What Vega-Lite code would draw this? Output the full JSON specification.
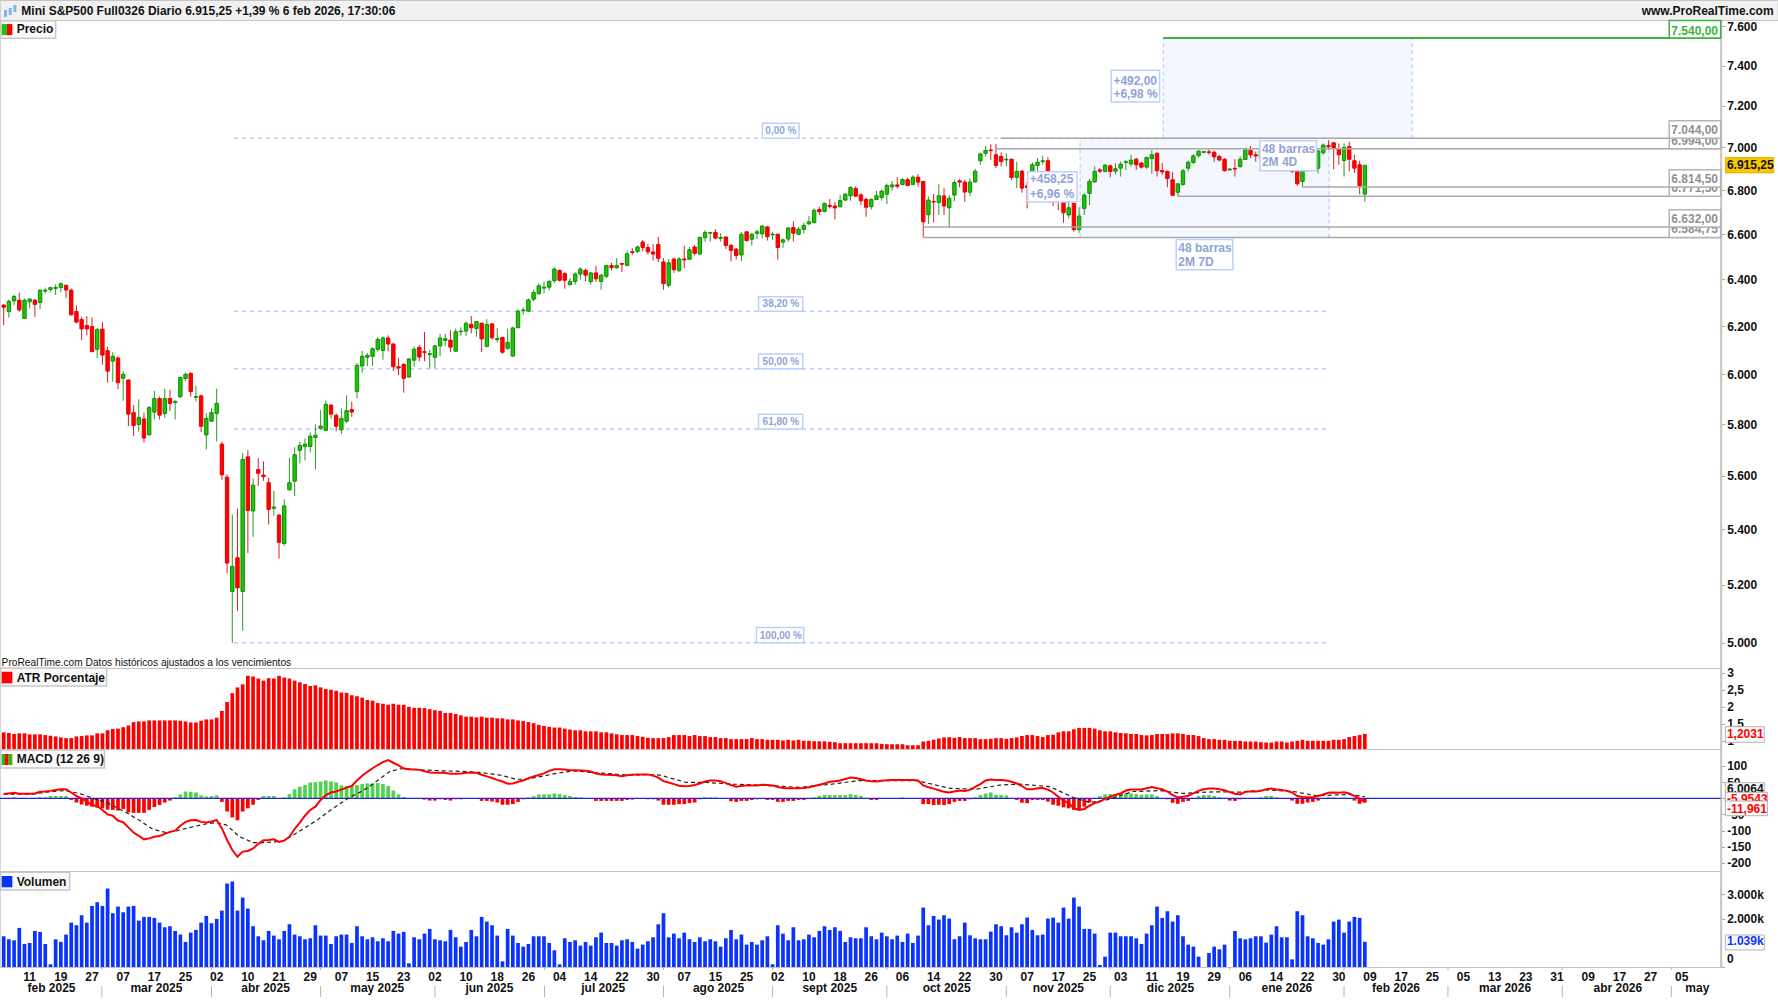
{
"$schema":"https://vega.github.io/schema/vega-lite/v6.json",
"padding":{"left":-2.3,"top":-1,"right":0,"bottom":0},
"background":"white",
"spacing":0,
"bounds":"flush",
"config":{
"axis":{"grid":false,"title":null,"labelFont":"Liberation Sans","labelFontSize":12,"labelFontWeight":"bold","labelColor":"#111111","tickColor":"#a8a8a8","tickSize":4,"domainColor":"#c4c4c4","domainWidth":2,"labelPadding":2,"labelOverlap":false,"labelBound":false,"labelFlush":false},
"text":{"font":"Liberation Sans","fontSize":12,"fontWeight":"bold","align":"left","baseline":"alphabetic","color":"#111111"}
},
"datasets":{
"velas":[
{"i":0,"d":"d","o":6289,"h":6292,"l":6204,"c":6280,"atr":1.25,"macd":13,"hist":0,"vol":1270},
{"i":1,"d":"u","o":6261,"h":6313,"l":6236,"c":6305,"atr":1.23,"macd":15,"hist":0,"vol":1145},
{"i":2,"d":"u","o":6307,"h":6332,"l":6289,"c":6326,"atr":1.2,"macd":17,"hist":3,"vol":1104},
{"i":3,"d":"d","o":6310,"h":6342,"l":6261,"c":6268,"atr":1.22,"macd":14,"hist":0,"vol":1615},
{"i":4,"d":"u","o":6232,"h":6317,"l":6229,"c":6310,"atr":1.22,"macd":14,"hist":0,"vol":952},
{"i":5,"d":"u","o":6303,"h":6317,"l":6275,"c":6315,"atr":1.19,"macd":14,"hist":0,"vol":994},
{"i":6,"d":"d","o":6310,"h":6315,"l":6239,"c":6292,"atr":1.19,"macd":15,"hist":0,"vol":1490},
{"i":7,"d":"u","o":6300,"h":6357,"l":6272,"c":6353,"atr":1.19,"macd":20,"hist":3,"vol":1449},
{"i":8,"d":"u","o":6349,"h":6364,"l":6339,"c":6353,"atr":1.17,"macd":21,"hist":3,"vol":952},
{"i":9,"d":"u","o":6356,"h":6367,"l":6344,"c":6364,"atr":1.15,"macd":23,"hist":7,"vol":110},
{"i":10,"d":"u","o":6361,"h":6378,"l":6332,"c":6364,"atr":1.13,"macd":26,"hist":7,"vol":1145},
{"i":11,"d":"u","o":6364,"h":6386,"l":6344,"c":6381,"atr":1.1,"macd":28,"hist":7,"vol":1035},
{"i":12,"d":"d","o":6374,"h":6377,"l":6320,"c":6354,"atr":1.08,"macd":28,"hist":7,"vol":1339},
{"i":13,"d":"d","o":6353,"h":6360,"l":6244,"c":6248,"atr":1.08,"macd":18,"hist":-5,"vol":1835},
{"i":14,"d":"d","o":6262,"h":6288,"l":6212,"c":6217,"atr":1.13,"macd":7,"hist":-13,"vol":1725},
{"i":15,"d":"d","o":6228,"h":6239,"l":6141,"c":6188,"atr":1.14,"macd":0,"hist":-19,"vol":2139},
{"i":16,"d":"d","o":6202,"h":6242,"l":6161,"c":6188,"atr":1.16,"macd":-10,"hist":-23,"vol":1835},
{"i":17,"d":"d","o":6198,"h":6236,"l":6093,"c":6093,"atr":1.16,"macd":-21,"hist":-26,"vol":2525},
{"i":18,"d":"u","o":6103,"h":6192,"l":6067,"c":6185,"atr":1.22,"macd":-24,"hist":-29,"vol":2677},
{"i":19,"d":"d","o":6187,"h":6218,"l":6040,"c":6079,"atr":1.22,"macd":-36,"hist":-31,"vol":2525},
{"i":20,"d":"d","o":6097,"h":6114,"l":5966,"c":6013,"atr":1.31,"macd":-50,"hist":-35,"vol":3243},
{"i":21,"d":"u","o":6054,"h":6091,"l":5970,"c":6074,"atr":1.35,"macd":-54,"hist":-36,"vol":2222},
{"i":22,"d":"d","o":6067,"h":6074,"l":5940,"c":5966,"atr":1.36,"macd":-69,"hist":-38,"vol":2498},
{"i":23,"d":"u","o":5984,"h":6013,"l":5893,"c":6000,"atr":1.4,"macd":-74,"hist":-33,"vol":2263},
{"i":24,"d":"d","o":5977,"h":5980,"l":5792,"c":5840,"atr":1.45,"macd":-90,"hist":-44,"vol":2498},
{"i":25,"d":"d","o":5846,"h":5876,"l":5754,"c":5795,"atr":1.55,"macd":-106,"hist":-45,"vol":2525},
{"i":26,"d":"u","o":5799,"h":5899,"l":5770,"c":5827,"atr":1.57,"macd":-116,"hist":-45,"vol":1918},
{"i":27,"d":"d","o":5821,"h":5846,"l":5729,"c":5746,"atr":1.57,"macd":-127,"hist":-45,"vol":2070},
{"i":28,"d":"u","o":5758,"h":5872,"l":5757,"c":5866,"atr":1.6,"macd":-124,"hist":-36,"vol":2070},
{"i":29,"d":"u","o":5848,"h":5933,"l":5819,"c":5902,"atr":1.6,"macd":-119,"hist":-27,"vol":2029},
{"i":30,"d":"d","o":5902,"h":5910,"l":5819,"c":5836,"atr":1.6,"macd":-117,"hist":-21,"vol":1835},
{"i":31,"d":"u","o":5842,"h":5942,"l":5825,"c":5902,"atr":1.6,"macd":-110,"hist":-13,"vol":1642},
{"i":32,"d":"d","o":5902,"h":5936,"l":5852,"c":5882,"atr":1.6,"macd":-104,"hist":-7,"vol":1684},
{"i":33,"d":"u","o":5886,"h":5895,"l":5819,"c":5891,"atr":1.6,"macd":-100,"hist":3,"vol":1490},
{"i":34,"d":"u","o":5909,"h":5991,"l":5906,"c":5987,"atr":1.59,"macd":-85,"hist":12,"vol":1339},
{"i":35,"d":"u","o":5983,"h":6008,"l":5973,"c":6000,"atr":1.57,"macd":-73,"hist":21,"vol":1035},
{"i":36,"d":"d","o":6004,"h":6008,"l":5910,"c":5930,"atr":1.54,"macd":-68,"hist":20,"vol":1421},
{"i":37,"d":"u","o":5907,"h":5953,"l":5890,"c":5910,"atr":1.54,"macd":-67,"hist":18,"vol":1532},
{"i":38,"d":"d","o":5913,"h":5917,"l":5769,"c":5792,"atr":1.59,"macd":-73,"hist":9,"vol":1835},
{"i":39,"d":"u","o":5758,"h":5843,"l":5702,"c":5823,"atr":1.63,"macd":-75,"hist":6,"vol":2111},
{"i":40,"d":"u","o":5812,"h":5863,"l":5809,"c":5846,"atr":1.63,"macd":-72,"hist":7,"vol":1808},
{"i":41,"d":"u","o":5842,"h":5942,"l":5732,"c":5883,"atr":1.68,"macd":-67,"hist":9,"vol":1987},
{"i":42,"d":"d","o":5722,"h":5732,"l":5585,"c":5604,"atr":1.88,"macd":-93,"hist":-11,"vol":2332},
{"i":43,"d":"d","o":5595,"h":5606,"l":5241,"c":5278,"atr":2.14,"macd":-129,"hist":-41,"vol":3450},
{"i":44,"d":"u","o":5177,"h":5455,"l":5000,"c":5266,"atr":2.4,"macd":-160,"hist":-59,"vol":3533},
{"i":45,"d":"d","o":5297,"h":5477,"l":5109,"c":5190,"atr":2.57,"macd":-181,"hist":-68,"vol":2332},
{"i":46,"d":"u","o":5177,"h":5688,"l":5041,"c":5663,"atr":2.66,"macd":-165,"hist":-41,"vol":2870},
{"i":47,"d":"d","o":5673,"h":5700,"l":5314,"c":5470,"atr":2.91,"macd":-163,"hist":-31,"vol":2415},
{"i":48,"d":"u","o":5468,"h":5590,"l":5373,"c":5565,"atr":2.89,"macd":-155,"hist":-20,"vol":1684},
{"i":49,"d":"d","o":5624,"h":5669,"l":5562,"c":5610,"atr":2.83,"macd":-141,"hist":-5,"vol":1270},
{"i":50,"d":"d","o":5603,"h":5656,"l":5581,"c":5597,"atr":2.77,"macd":-130,"hist":7,"vol":1104},
{"i":51,"d":"d","o":5574,"h":5593,"l":5418,"c":5474,"atr":2.84,"macd":-129,"hist":7,"vol":1490},
{"i":52,"d":"u","o":5478,"h":5543,"l":5450,"c":5483,"atr":2.83,"macd":-127,"hist":7,"vol":1297},
{"i":53,"d":"d","o":5453,"h":5456,"l":5294,"c":5353,"atr":2.91,"macd":-135,"hist":0,"vol":1145},
{"i":54,"d":"u","o":5349,"h":5512,"l":5340,"c":5487,"atr":2.86,"macd":-131,"hist":3,"vol":1490},
{"i":55,"d":"u","o":5547,"h":5669,"l":5546,"c":5574,"atr":2.83,"macd":-119,"hist":13,"vol":1766},
{"i":56,"d":"u","o":5580,"h":5710,"l":5524,"c":5681,"atr":2.77,"macd":-95,"hist":28,"vol":1339},
{"i":57,"d":"u","o":5698,"h":5732,"l":5648,"c":5717,"atr":2.72,"macd":-75,"hist":36,"vol":1270},
{"i":58,"d":"u","o":5713,"h":5745,"l":5659,"c":5722,"atr":2.67,"macd":-54,"hist":41,"vol":1145},
{"i":59,"d":"u","o":5713,"h":5767,"l":5690,"c":5753,"atr":2.61,"macd":-36,"hist":49,"vol":1187},
{"i":60,"d":"u","o":5748,"h":5799,"l":5625,"c":5757,"atr":2.63,"macd":-26,"hist":50,"vol":1725},
{"i":61,"d":"u","o":5784,"h":5856,"l":5778,"c":5793,"atr":2.57,"macd":-5,"hist":52,"vol":1297},
{"i":62,"d":"u","o":5776,"h":5895,"l":5772,"c":5879,"atr":2.52,"macd":10,"hist":55,"vol":1297},
{"i":63,"d":"d","o":5876,"h":5879,"l":5823,"c":5840,"atr":2.5,"macd":18,"hist":52,"vol":952},
{"i":64,"d":"d","o":5835,"h":5843,"l":5772,"c":5792,"atr":2.47,"macd":21,"hist":49,"vol":1270},
{"i":65,"d":"u","o":5778,"h":5863,"l":5761,"c":5823,"atr":2.42,"macd":27,"hist":40,"vol":1339},
{"i":66,"d":"u","o":5812,"h":5915,"l":5805,"c":5854,"atr":2.41,"macd":33,"hist":38,"vol":1339},
{"i":67,"d":"d","o":5858,"h":5889,"l":5829,"c":5848,"atr":2.34,"macd":38,"hist":39,"vol":994},
{"i":68,"d":"u","o":5930,"h":6047,"l":5903,"c":6036,"atr":2.31,"macd":55,"hist":41,"vol":1684},
{"i":69,"d":"u","o":6034,"h":6097,"l":6007,"c":6074,"atr":2.27,"macd":70,"hist":44,"vol":1270},
{"i":70,"d":"u","o":6070,"h":6087,"l":6034,"c":6078,"atr":2.2,"macd":82,"hist":46,"vol":1145},
{"i":71,"d":"u","o":6074,"h":6111,"l":6034,"c":6105,"atr":2.18,"macd":93,"hist":46,"vol":1228},
{"i":72,"d":"u","o":6103,"h":6154,"l":6094,"c":6144,"atr":2.11,"macd":103,"hist":47,"vol":1063},
{"i":73,"d":"u","o":6098,"h":6157,"l":6060,"c":6150,"atr":2.09,"macd":112,"hist":44,"vol":1187},
{"i":74,"d":"d","o":6150,"h":6161,"l":6094,"c":6125,"atr":2.06,"macd":118,"hist":38,"vol":1063},
{"i":75,"d":"d","o":6125,"h":6128,"l":6013,"c":6031,"atr":2.09,"macd":110,"hist":24,"vol":1490},
{"i":76,"d":"d","o":6031,"h":6067,"l":5997,"c":6026,"atr":2.06,"macd":102,"hist":12,"vol":1380},
{"i":77,"d":"d","o":6040,"h":6047,"l":5926,"c":5984,"atr":2.06,"macd":92,"hist":4,"vol":1449},
{"i":78,"d":"u","o":5989,"h":6067,"l":5987,"c":6063,"atr":2,"macd":90,"hist":1,"vol":152},
{"i":79,"d":"u","o":6058,"h":6114,"l":6031,"c":6103,"atr":1.97,"macd":89,"hist":0,"vol":1228},
{"i":80,"d":"d","o":6111,"h":6121,"l":6054,"c":6071,"atr":1.97,"macd":88,"hist":0,"vol":1145},
{"i":81,"d":"d","o":6093,"h":6175,"l":6054,"c":6090,"atr":1.96,"macd":84,"hist":-4,"vol":1380},
{"i":82,"d":"u","o":6081,"h":6101,"l":6023,"c":6085,"atr":1.93,"macd":80,"hist":-7,"vol":1573},
{"i":83,"d":"u","o":6070,"h":6121,"l":6027,"c":6117,"atr":1.9,"macd":79,"hist":-7,"vol":1145},
{"i":84,"d":"u","o":6117,"h":6168,"l":6074,"c":6150,"atr":1.88,"macd":79,"hist":-3,"vol":1104},
{"i":85,"d":"u","o":6140,"h":6168,"l":6117,"c":6147,"atr":1.82,"macd":78,"hist":-5,"vol":1063},
{"i":86,"d":"d","o":6141,"h":6183,"l":6091,"c":6112,"atr":1.82,"macd":76,"hist":-7,"vol":1532},
{"i":87,"d":"u","o":6095,"h":6190,"l":6094,"c":6176,"atr":1.79,"macd":76,"hist":-3,"vol":1228},
{"i":88,"d":"u","o":6176,"h":6195,"l":6159,"c":6179,"atr":1.75,"macd":77,"hist":-3,"vol":842},
{"i":89,"d":"u","o":6179,"h":6219,"l":6159,"c":6212,"atr":1.71,"macd":79,"hist":0,"vol":1035},
{"i":90,"d":"d","o":6207,"h":6243,"l":6169,"c":6193,"atr":1.71,"macd":79,"hist":0,"vol":1532},
{"i":91,"d":"u","o":6190,"h":6222,"l":6155,"c":6219,"atr":1.69,"macd":79,"hist":0,"vol":1270},
{"i":92,"d":"d","o":6212,"h":6214,"l":6091,"c":6146,"atr":1.71,"macd":73,"hist":-8,"vol":2070},
{"i":93,"d":"u","o":6115,"h":6229,"l":6111,"c":6207,"atr":1.68,"macd":68,"hist":-8,"vol":1877},
{"i":94,"d":"d","o":6209,"h":6212,"l":6143,"c":6151,"atr":1.68,"macd":63,"hist":-10,"vol":1725},
{"i":95,"d":"u","o":6143,"h":6192,"l":6131,"c":6148,"atr":1.66,"macd":57,"hist":-13,"vol":1297},
{"i":96,"d":"d","o":6152,"h":6155,"l":6084,"c":6091,"atr":1.66,"macd":52,"hist":-20,"vol":235},
{"i":97,"d":"u","o":6107,"h":6189,"l":6101,"c":6132,"atr":1.63,"macd":45,"hist":-20,"vol":1573},
{"i":98,"d":"u","o":6075,"h":6197,"l":6072,"c":6192,"atr":1.63,"macd":46,"hist":-18,"vol":1297},
{"i":99,"d":"u","o":6193,"h":6271,"l":6192,"c":6263,"atr":1.6,"macd":51,"hist":-11,"vol":994},
{"i":100,"d":"u","o":6266,"h":6280,"l":6247,"c":6268,"atr":1.58,"macd":55,"hist":-3,"vol":842},
{"i":101,"d":"u","o":6263,"h":6318,"l":6260,"c":6311,"atr":1.55,"macd":62,"hist":3,"vol":952},
{"i":102,"d":"u","o":6314,"h":6355,"l":6304,"c":6343,"atr":1.52,"macd":68,"hist":7,"vol":1270},
{"i":103,"d":"u","o":6337,"h":6383,"l":6336,"c":6372,"atr":1.47,"macd":72,"hist":12,"vol":1270},
{"i":104,"d":"u","o":6362,"h":6391,"l":6340,"c":6366,"atr":1.44,"macd":77,"hist":12,"vol":1270},
{"i":105,"d":"u","o":6366,"h":6396,"l":6352,"c":6391,"atr":1.41,"macd":85,"hist":12,"vol":994},
{"i":106,"d":"u","o":6394,"h":6453,"l":6384,"c":6445,"atr":1.39,"macd":90,"hist":15,"vol":690},
{"i":107,"d":"d","o":6439,"h":6442,"l":6391,"c":6396,"atr":1.39,"macd":90,"hist":13,"vol":110},
{"i":108,"d":"d","o":6425,"h":6432,"l":6359,"c":6396,"atr":1.36,"macd":89,"hist":10,"vol":1187},
{"i":109,"d":"u","o":6377,"h":6406,"l":6372,"c":6391,"atr":1.33,"macd":87,"hist":7,"vol":1035},
{"i":110,"d":"u","o":6391,"h":6431,"l":6377,"c":6423,"atr":1.31,"macd":87,"hist":4,"vol":1104},
{"i":111,"d":"u","o":6423,"h":6453,"l":6399,"c":6445,"atr":1.31,"macd":86,"hist":3,"vol":883},
{"i":112,"d":"d","o":6439,"h":6447,"l":6391,"c":6418,"atr":1.28,"macd":85,"hist":1,"vol":1035},
{"i":113,"d":"u","o":6390,"h":6431,"l":6377,"c":6428,"atr":1.28,"macd":83,"hist":0,"vol":883},
{"i":114,"d":"d","o":6428,"h":6460,"l":6388,"c":6402,"atr":1.28,"macd":77,"hist":-8,"vol":1228},
{"i":115,"d":"u","o":6391,"h":6425,"l":6355,"c":6418,"atr":1.25,"macd":74,"hist":-8,"vol":1421},
{"i":116,"d":"u","o":6413,"h":6464,"l":6406,"c":6460,"atr":1.25,"macd":73,"hist":-8,"vol":994},
{"i":117,"d":"d","o":6460,"h":6472,"l":6438,"c":6451,"atr":1.22,"macd":72,"hist":-8,"vol":994},
{"i":118,"d":"u","o":6450,"h":6493,"l":6447,"c":6461,"atr":1.19,"macd":71,"hist":-8,"vol":883},
{"i":119,"d":"d","o":6469,"h":6472,"l":6432,"c":6466,"atr":1.17,"macd":68,"hist":-8,"vol":1104},
{"i":120,"d":"u","o":6461,"h":6526,"l":6457,"c":6512,"atr":1.17,"macd":71,"hist":-5,"vol":1145},
{"i":121,"d":"d","o":6521,"h":6537,"l":6508,"c":6518,"atr":1.17,"macd":73,"hist":-4,"vol":1035},
{"i":122,"d":"u","o":6523,"h":6549,"l":6515,"c":6542,"atr":1.14,"macd":74,"hist":0,"vol":759},
{"i":123,"d":"d","o":6564,"h":6574,"l":6523,"c":6540,"atr":1.12,"macd":74,"hist":0,"vol":925},
{"i":124,"d":"d","o":6540,"h":6556,"l":6508,"c":6521,"atr":1.09,"macd":74,"hist":-3,"vol":1063},
{"i":125,"d":"d","o":6520,"h":6555,"l":6482,"c":6511,"atr":1.08,"macd":70,"hist":-3,"vol":1228},
{"i":126,"d":"d","o":6553,"h":6587,"l":6475,"c":6492,"atr":1.08,"macd":64,"hist":-7,"vol":1766},
{"i":127,"d":"d","o":6476,"h":6493,"l":6355,"c":6381,"atr":1.08,"macd":53,"hist":-20,"vol":2222},
{"i":128,"d":"u","o":6374,"h":6489,"l":6365,"c":6472,"atr":1.11,"macd":49,"hist":-20,"vol":1228},
{"i":129,"d":"d","o":6489,"h":6496,"l":6428,"c":6442,"atr":1.17,"macd":44,"hist":-20,"vol":1380},
{"i":130,"d":"u","o":6438,"h":6498,"l":6432,"c":6489,"atr":1.17,"macd":39,"hist":-18,"vol":1187},
{"i":131,"d":"d","o":6489,"h":6548,"l":6450,"c":6485,"atr":1.17,"macd":37,"hist":-18,"vol":1421},
{"i":132,"d":"u","o":6488,"h":6542,"l":6486,"c":6530,"atr":1.14,"macd":38,"hist":-15,"vol":1145},
{"i":133,"d":"d","o":6542,"h":6552,"l":6504,"c":6514,"atr":1.17,"macd":41,"hist":-13,"vol":1035},
{"i":134,"d":"u","o":6511,"h":6588,"l":6507,"c":6585,"atr":1.14,"macd":46,"hist":-3,"vol":1228},
{"i":135,"d":"u","o":6584,"h":6617,"l":6566,"c":6607,"atr":1.14,"macd":52,"hist":3,"vol":1063},
{"i":136,"d":"u","o":6604,"h":6610,"l":6566,"c":6607,"atr":1.11,"macd":55,"hist":3,"vol":1145},
{"i":137,"d":"d","o":6607,"h":6622,"l":6577,"c":6582,"atr":1.11,"macd":55,"hist":3,"vol":1063},
{"i":138,"d":"u","o":6581,"h":6603,"l":6566,"c":6585,"atr":1.08,"macd":53,"hist":0,"vol":842},
{"i":139,"d":"d","o":6587,"h":6588,"l":6534,"c":6549,"atr":1.08,"macd":47,"hist":0,"vol":1187},
{"i":140,"d":"d","o":6550,"h":6555,"l":6479,"c":6527,"atr":1.05,"macd":41,"hist":-9,"vol":1532},
{"i":141,"d":"d","o":6533,"h":6537,"l":6486,"c":6504,"atr":1.05,"macd":36,"hist":-11,"vol":1145},
{"i":142,"d":"u","o":6507,"h":6610,"l":6479,"c":6599,"atr":1.05,"macd":38,"hist":-8,"vol":1339},
{"i":143,"d":"d","o":6610,"h":6613,"l":6566,"c":6571,"atr":1.05,"macd":40,"hist":-8,"vol":925},
{"i":144,"d":"u","o":6577,"h":6606,"l":6549,"c":6599,"atr":1.08,"macd":40,"hist":-5,"vol":1035},
{"i":145,"d":"u","o":6603,"h":6620,"l":6577,"c":6610,"atr":1.05,"macd":40,"hist":-3,"vol":925},
{"i":146,"d":"u","o":6601,"h":6640,"l":6581,"c":6636,"atr":1.05,"macd":42,"hist":0,"vol":1104},
{"i":147,"d":"d","o":6632,"h":6636,"l":6571,"c":6588,"atr":1.03,"macd":41,"hist":-5,"vol":1270},
{"i":148,"d":"u","o":6596,"h":6610,"l":6574,"c":6599,"atr":1.03,"macd":40,"hist":-5,"vol":110},
{"i":149,"d":"d","o":6599,"h":6602,"l":6486,"c":6540,"atr":1.03,"macd":35,"hist":-11,"vol":1725},
{"i":150,"d":"u","o":6564,"h":6581,"l":6539,"c":6574,"atr":1.01,"macd":32,"hist":-11,"vol":1380},
{"i":151,"d":"u","o":6578,"h":6632,"l":6566,"c":6627,"atr":1.03,"macd":31,"hist":-8,"vol":1104},
{"i":152,"d":"d","o":6629,"h":6657,"l":6566,"c":6604,"atr":1.01,"macd":31,"hist":-8,"vol":1642},
{"i":153,"d":"u","o":6599,"h":6632,"l":6596,"c":6622,"atr":1.03,"macd":31,"hist":-5,"vol":1104},
{"i":154,"d":"u","o":6621,"h":6651,"l":6603,"c":6639,"atr":1,"macd":32,"hist":-5,"vol":1145},
{"i":155,"d":"u","o":6646,"h":6681,"l":6640,"c":6655,"atr":1,"macd":34,"hist":0,"vol":1339},
{"i":156,"d":"u","o":6651,"h":6716,"l":6648,"c":6707,"atr":0.985,"macd":38,"hist":3,"vol":1228},
{"i":157,"d":"d","o":6711,"h":6724,"l":6686,"c":6701,"atr":0.985,"macd":42,"hist":8,"vol":1490},
{"i":158,"d":"u","o":6702,"h":6742,"l":6699,"c":6739,"atr":0.985,"macd":46,"hist":10,"vol":1684},
{"i":159,"d":"d","o":6730,"h":6759,"l":6716,"c":6725,"atr":0.97,"macd":51,"hist":10,"vol":1532},
{"i":160,"d":"d","o":6727,"h":6746,"l":6666,"c":6718,"atr":0.96,"macd":53,"hist":10,"vol":1642},
{"i":161,"d":"u","o":6724,"h":6777,"l":6719,"c":6752,"atr":0.93,"macd":55,"hist":10,"vol":1490},
{"i":162,"d":"u","o":6754,"h":6787,"l":6749,"c":6781,"atr":0.93,"macd":60,"hist":10,"vol":1035},
{"i":163,"d":"u","o":6774,"h":6818,"l":6751,"c":6812,"atr":0.93,"macd":64,"hist":13,"vol":1228},
{"i":164,"d":"d","o":6807,"h":6818,"l":6769,"c":6772,"atr":0.93,"macd":63,"hist":10,"vol":1187},
{"i":165,"d":"d","o":6778,"h":6787,"l":6731,"c":6751,"atr":0.93,"macd":59,"hist":7,"vol":1187},
{"i":166,"d":"d","o":6757,"h":6766,"l":6678,"c":6721,"atr":0.93,"macd":55,"hist":0,"vol":1642},
{"i":167,"d":"u","o":6724,"h":6762,"l":6711,"c":6757,"atr":0.93,"macd":53,"hist":-5,"vol":1270},
{"i":168,"d":"u","o":6757,"h":6797,"l":6754,"c":6774,"atr":0.93,"macd":52,"hist":-5,"vol":1145},
{"i":169,"d":"u","o":6766,"h":6803,"l":6751,"c":6795,"atr":0.91,"macd":54,"hist":0,"vol":1421},
{"i":170,"d":"u","o":6781,"h":6830,"l":6736,"c":6821,"atr":0.9,"macd":56,"hist":0,"vol":1270},
{"i":171,"d":"u","o":6815,"h":6842,"l":6797,"c":6824,"atr":0.9,"macd":57,"hist":0,"vol":1145},
{"i":172,"d":"d","o":6824,"h":6860,"l":6807,"c":6818,"atr":0.9,"macd":57,"hist":0,"vol":1297},
{"i":173,"d":"u","o":6826,"h":6855,"l":6823,"c":6849,"atr":0.9,"macd":57,"hist":3,"vol":1035},
{"i":174,"d":"d","o":6848,"h":6860,"l":6820,"c":6821,"atr":0.87,"macd":57,"hist":0,"vol":1380},
{"i":175,"d":"u","o":6826,"h":6869,"l":6823,"c":6860,"atr":0.87,"macd":57,"hist":0,"vol":994},
{"i":176,"d":"d","o":6860,"h":6874,"l":6816,"c":6837,"atr":0.87,"macd":55,"hist":0,"vol":1297},
{"i":177,"d":"d","o":6840,"h":6843,"l":6585,"c":6655,"atr":0.98,"macd":40,"hist":-18,"vol":2456},
{"i":178,"d":"u","o":6687,"h":6770,"l":6645,"c":6754,"atr":1,"macd":34,"hist":-18,"vol":1725},
{"i":179,"d":"d","o":6748,"h":6782,"l":6652,"c":6745,"atr":1.03,"macd":30,"hist":-21,"vol":2111},
{"i":180,"d":"u","o":6743,"h":6827,"l":6686,"c":6774,"atr":1.07,"macd":25,"hist":-20,"vol":1960},
{"i":181,"d":"d","o":6773,"h":6809,"l":6686,"c":6727,"atr":1.1,"macd":20,"hist":-21,"vol":2139},
{"i":182,"d":"u","o":6719,"h":6777,"l":6632,"c":6762,"atr":1.11,"macd":18,"hist":-18,"vol":2001},
{"i":183,"d":"u","o":6777,"h":6848,"l":6749,"c":6835,"atr":1.09,"macd":21,"hist":-11,"vol":1145},
{"i":184,"d":"d","o":6843,"h":6852,"l":6813,"c":6837,"atr":1.11,"macd":24,"hist":-8,"vol":1270},
{"i":185,"d":"d","o":6837,"h":6848,"l":6746,"c":6791,"atr":1.08,"macd":23,"hist":-8,"vol":1835},
{"i":186,"d":"u","o":6790,"h":6855,"l":6773,"c":6837,"atr":1.08,"macd":26,"hist":-3,"vol":1311},
{"i":187,"d":"u","o":6838,"h":6899,"l":6835,"c":6888,"atr":1.08,"macd":35,"hist":3,"vol":1187},
{"i":188,"d":"u","o":6937,"h":6976,"l":6918,"c":6969,"atr":1.05,"macd":44,"hist":10,"vol":1145},
{"i":189,"d":"u","o":6972,"h":7007,"l":6957,"c":6986,"atr":1.05,"macd":55,"hist":15,"vol":1145},
{"i":190,"d":"d","o":6988,"h":7015,"l":6941,"c":6985,"atr":1.06,"macd":58,"hist":18,"vol":1463},
{"i":191,"d":"d","o":6965,"h":7016,"l":6902,"c":6915,"atr":1.08,"macd":57,"hist":11,"vol":1766},
{"i":192,"d":"d","o":6957,"h":6977,"l":6910,"c":6933,"atr":1.08,"macd":57,"hist":10,"vol":1684},
{"i":193,"d":"u","o":6941,"h":6972,"l":6910,"c":6944,"atr":1.06,"macd":55,"hist":9,"vol":1311},
{"i":194,"d":"d","o":6944,"h":6947,"l":6848,"c":6859,"atr":1.08,"macd":51,"hist":0,"vol":1642},
{"i":195,"d":"u","o":6859,"h":6933,"l":6809,"c":6887,"atr":1.1,"macd":46,"hist":-5,"vol":1421},
{"i":196,"d":"d","o":6888,"h":6894,"l":6788,"c":6809,"atr":1.14,"macd":38,"hist":-14,"vol":1766},
{"i":197,"d":"d","o":6820,"h":6840,"l":6716,"c":6812,"atr":1.17,"macd":28,"hist":-15,"vol":2042},
{"i":198,"d":"u","o":6879,"h":6930,"l":6855,"c":6918,"atr":1.17,"macd":28,"hist":-5,"vol":1532},
{"i":199,"d":"u","o":6915,"h":6949,"l":6887,"c":6930,"atr":1.14,"macd":31,"hist":-5,"vol":1311},
{"i":200,"d":"u","o":6933,"h":6960,"l":6918,"c":6937,"atr":1.11,"macd":32,"hist":-5,"vol":1339},
{"i":201,"d":"d","o":6937,"h":6954,"l":6820,"c":6840,"atr":1.17,"macd":27,"hist":-10,"vol":2001},
{"i":202,"d":"d","o":6848,"h":6860,"l":6727,"c":6785,"atr":1.18,"macd":18,"hist":-20,"vol":2042},
{"i":203,"d":"d","o":6798,"h":6813,"l":6708,"c":6754,"atr":1.25,"macd":5,"hist":-23,"vol":1835},
{"i":204,"d":"d","o":6754,"h":6770,"l":6651,"c":6696,"atr":1.28,"macd":-7,"hist":-28,"vol":2456},
{"i":205,"d":"u","o":6686,"h":6746,"l":6670,"c":6719,"atr":1.28,"macd":-15,"hist":-31,"vol":2001},
{"i":206,"d":"d","o":6739,"h":6746,"l":6610,"c":6620,"atr":1.34,"macd":-31,"hist":-36,"vol":2870},
{"i":207,"d":"u","o":6620,"h":6721,"l":6605,"c":6681,"atr":1.38,"macd":-36,"hist":-37,"vol":2498},
{"i":208,"d":"u","o":6716,"h":6785,"l":6686,"c":6777,"atr":1.38,"macd":-33,"hist":-26,"vol":1573},
{"i":209,"d":"u","o":6785,"h":6852,"l":6731,"c":6840,"atr":1.38,"macd":-23,"hist":-13,"vol":1573},
{"i":210,"d":"u","o":6838,"h":6910,"l":6835,"c":6887,"atr":1.36,"macd":-15,"hist":0,"vol":1380},
{"i":211,"d":"d","o":6894,"h":6902,"l":6879,"c":6888,"atr":1.31,"macd":-10,"hist":7,"vol":83},
{"i":212,"d":"u","o":6887,"h":6922,"l":6883,"c":6916,"atr":1.28,"macd":-2,"hist":12,"vol":428},
{"i":213,"d":"d","o":6913,"h":6918,"l":6859,"c":6887,"atr":1.28,"macd":5,"hist":13,"vol":1421},
{"i":214,"d":"u","o":6888,"h":6926,"l":6873,"c":6899,"atr":1.25,"macd":11,"hist":13,"vol":1421},
{"i":215,"d":"u","o":6902,"h":6933,"l":6863,"c":6921,"atr":1.23,"macd":15,"hist":15,"vol":1270},
{"i":216,"d":"u","o":6929,"h":6941,"l":6894,"c":6932,"atr":1.22,"macd":24,"hist":15,"vol":1270},
{"i":217,"d":"u","o":6922,"h":6965,"l":6910,"c":6940,"atr":1.2,"macd":27,"hist":15,"vol":1270},
{"i":218,"d":"d","o":6944,"h":6951,"l":6894,"c":6918,"atr":1.2,"macd":27,"hist":13,"vol":1187},
{"i":219,"d":"d","o":6926,"h":6932,"l":6901,"c":6907,"atr":1.17,"macd":27,"hist":11,"vol":952},
{"i":220,"d":"u","o":6907,"h":6957,"l":6898,"c":6952,"atr":1.16,"macd":31,"hist":12,"vol":1380},
{"i":221,"d":"u","o":6947,"h":6988,"l":6876,"c":6965,"atr":1.17,"macd":35,"hist":12,"vol":1725},
{"i":222,"d":"d","o":6972,"h":6977,"l":6863,"c":6890,"atr":1.2,"macd":31,"hist":7,"vol":2498},
{"i":223,"d":"d","o":6891,"h":6926,"l":6871,"c":6885,"atr":1.2,"macd":28,"hist":0,"vol":2029},
{"i":224,"d":"d","o":6887,"h":6891,"l":6813,"c":6854,"atr":1.2,"macd":21,"hist":-3,"vol":2305},
{"i":225,"d":"d","o":6848,"h":6885,"l":6773,"c":6776,"atr":1.22,"macd":10,"hist":-14,"vol":1877},
{"i":226,"d":"u","o":6790,"h":6832,"l":6771.5,"c":6829,"atr":1.22,"macd":3,"hist":-17,"vol":2139},
{"i":227,"d":"u","o":6826,"h":6899,"l":6820,"c":6890,"atr":1.2,"macd":5,"hist":-11,"vol":1270},
{"i":228,"d":"u","o":6902,"h":6938,"l":6887,"c":6930,"atr":1.17,"macd":8,"hist":-8,"vol":925},
{"i":229,"d":"u","o":6929,"h":6968,"l":6922,"c":6960,"atr":1.17,"macd":15,"hist":0,"vol":842},
{"i":230,"d":"u","o":6961,"h":6988,"l":6951,"c":6982,"atr":1.14,"macd":23,"hist":7,"vol":428},
{"i":231,"d":"u","o":6977,"h":6983,"l":6972,"c":6980,"atr":1.08,"macd":28,"hist":10,"vol":0},
{"i":232,"d":"d","o":6979,"h":6991,"l":6965,"c":6976,"atr":1.05,"macd":30,"hist":10,"vol":580},
{"i":233,"d":"d","o":6977,"h":6985,"l":6932,"c":6955,"atr":1.05,"macd":30,"hist":7,"vol":842},
{"i":234,"d":"d","o":6957,"h":6965,"l":6933,"c":6941,"atr":1.03,"macd":28,"hist":3,"vol":731},
{"i":235,"d":"d","o":6944,"h":6949,"l":6887,"c":6890,"atr":1.03,"macd":25,"hist":0,"vol":925},
{"i":236,"d":"u","o":6894,"h":6901,"l":6891,"c":6898,"atr":1,"macd":19,"hist":-7,"vol":0},
{"i":237,"d":"d","o":6901,"h":6944,"l":6863,"c":6898,"atr":1,"macd":14,"hist":-8,"vol":1490},
{"i":238,"d":"u","o":6910,"h":6957,"l":6902,"c":6944,"atr":1,"macd":12,"hist":-3,"vol":1187},
{"i":239,"d":"u","o":6943,"h":6999,"l":6941,"c":6988,"atr":0.98,"macd":20,"hist":0,"vol":1145},
{"i":240,"d":"d","o":6986,"h":7007,"l":6949,"c":6965,"atr":0.98,"macd":21,"hist":0,"vol":1187},
{"i":241,"d":"d","o":6965,"h":6980,"l":6933,"c":6960,"atr":0.98,"macd":21,"hist":0,"vol":1270},
{"i":242,"d":"u","o":6949,"h":6996,"l":6941,"c":6988,"atr":0.96,"macd":23,"hist":3,"vol":1270},
{"i":243,"d":"u","o":6976,"h":7011,"l":6965,"c":7004,"atr":0.95,"macd":28,"hist":7,"vol":1007},
{"i":244,"d":"d","o":6996,"h":7007,"l":6949,"c":6965,"atr":0.95,"macd":30,"hist":7,"vol":1339},
{"i":245,"d":"u","o":6933,"h":6988,"l":6918,"c":6972,"atr":0.98,"macd":27,"hist":3,"vol":1684},
{"i":246,"d":"d","o":6957,"h":6972,"l":6902,"c":6918,"atr":0.98,"macd":26,"hist":0,"vol":1228},
{"i":247,"d":"d","o":6933,"h":6949,"l":6887,"c":6902,"atr":0.95,"macd":23,"hist":0,"vol":1228},
{"i":248,"d":"d","o":6918,"h":6933,"l":6879,"c":6887,"atr":0.98,"macd":18,"hist":-7,"vol":317},
{"i":249,"d":"d","o":6891,"h":6902,"l":6820,"c":6829,"atr":1,"macd":7,"hist":-17,"vol":2305},
{"i":250,"d":"u","o":6840,"h":6926,"l":6814.5,"c":6891,"atr":1.03,"macd":4,"hist":-17,"vol":2139},
{"i":251,"d":"u","o":6891,"h":6941,"l":6887,"c":6926,"atr":1,"macd":3,"hist":-13,"vol":1270},
{"i":252,"d":"u","o":6918,"h":6972,"l":6910,"c":6957,"atr":1,"macd":3,"hist":-11,"vol":1187},
{"i":253,"d":"u","o":6902,"h":6988,"l":6876,"c":6983,"atr":1,"macd":7,"hist":-7,"vol":994},
{"i":254,"d":"u","o":6975,"h":7019,"l":6965,"c":7011,"atr":1,"macd":12,"hist":0,"vol":925},
{"i":255,"d":"d","o":7008,"h":7034,"l":6988,"c":7003,"atr":1,"macd":17,"hist":3,"vol":1145},
{"i":256,"d":"d","o":7022,"h":7027,"l":6897,"c":6999,"atr":1.03,"macd":18,"hist":3,"vol":1877},
{"i":257,"d":"d","o":6991,"h":7019,"l":6918,"c":6965,"atr":1.03,"macd":17,"hist":0,"vol":1960},
{"i":258,"d":"u","o":6938,"h":7019,"l":6863,"c":7000,"atr":1.05,"macd":19,"hist":2,"vol":1421},
{"i":259,"d":"d","o":7004,"h":7027,"l":6887,"c":6944,"atr":1.11,"macd":15,"hist":0,"vol":1877},
{"i":260,"d":"d","o":6937,"h":6965,"l":6879,"c":6902,"atr":1.14,"macd":7,"hist":-7,"vol":2070},
{"i":261,"d":"d","o":6918,"h":6937,"l":6781,"c":6820,"atr":1.17,"macd":-1,"hist":-17,"vol":2029},
{"i":262,"d":"u","o":6782,"h":6918,"l":6746,"c":6915.25,"atr":1.2031,"macd":-12,"hist":-13,"vol":1039}
],
"senal":[
{"i":0,"v":13},{"i":5.6,"v":13},{"i":7.6,"v":18},{"i":11.7,"v":24},{"i":14.6,"v":15},{"i":17.2,"v":0},{"i":19.8,"v":-13},{"i":23.6,"v":-44},{"i":26.2,"v":-69},{"i":28.7,"v":-96},{"i":31.3,"v":-106},{"i":33.2,"v":-101},{"i":36.4,"v":-88},{"i":39,"v":-79},{"i":40.9,"v":-75},{"i":42.9,"v":-83},{"i":45.4,"v":-119},{"i":48,"v":-137},{"i":50.6,"v":-137},{"i":53.8,"v":-132},{"i":56.3,"v":-108},{"i":60.2,"v":-69},{"i":63.4,"v":-31},{"i":66.6,"v":3},{"i":69.2,"v":24},{"i":71.7,"v":52},{"i":74.3,"v":83},{"i":76.9,"v":93},{"i":80.1,"v":88},{"i":84.6,"v":85},{"i":89.1,"v":83},{"i":91.6,"v":80},{"i":95.5,"v":72},{"i":98.7,"v":59},{"i":100.6,"v":59},{"i":103.2,"v":67},{"i":106.4,"v":77},{"i":109.6,"v":85},{"i":114,"v":79},{"i":119.9,"v":72},{"i":123.7,"v":73},{"i":126.3,"v":72},{"i":131.4,"v":49},{"i":135.3,"v":49},{"i":140.4,"v":44},{"i":145.5,"v":41},{"i":150.7,"v":36},{"i":153.2,"v":34},{"i":159,"v":43},{"i":164.8,"v":55},{"i":175.7,"v":55},{"i":182.1,"v":31},{"i":187.2,"v":28},{"i":191.7,"v":41},{"i":195.6,"v":44},{"i":201.4,"v":36},{"i":205.8,"v":3},{"i":209,"v":-13},{"i":212.3,"v":-5},{"i":217.4,"v":21},{"i":222.5,"v":24},{"i":227,"v":15},{"i":232.8,"v":20},{"i":238,"v":19},{"i":243,"v":26},{"i":248.2,"v":21},{"i":252.7,"v":8},{"i":259.1,"v":12},{"i":262,"v":5}
],
"fibo":[
{"t":"0,00 %","i":146.05,"i2":153.1,"p":7044,"p2":7116,"tp":7063,"tc":149.6},
{"t":"38,20 %","i":145.3,"i2":153.8,"p":6263,"p2":6325,"tp":6280,"tc":149.6},
{"t":"50,00 %","i":145.3,"i2":153.8,"p":6023,"p2":6083,"tp":6038,"tc":149.6},
{"t":"61,80 %","i":145.3,"i2":153.8,"p":5781,"p2":5839,"tp":5797,"tc":149.6},
{"t":"100,00 %","i":144.9,"i2":154,"p":5000,"p2":5052,"tp":5014,"tc":149.6}
],
"medidas":[
{"t":"+458,25","t2":"+6,96 %","i":197.1,"i2":206.6,"p":6745,"p2":6885,"tp":6832,"tp2":6765,"tx":197.5},
{"t":"+492,00","t2":"+6,98 %","i":213.2,"i2":222.5,"p":7219,"p2":7377,"tp":7303,"tp2":7237,"tx":213.6},
{"t":"48 barras","t2":"2M 7D","i":225.7,"i2":236.6,"p":6442,"p2":6576,"tp":6521,"tp2":6459,"tx":226.1},
{"t":"48 barras","t2":"2M 4D","i":241.8,"i2":252.7,"p":6890,"p2":7032,"tp":6975,"tp2":6912,"tx":242.2}
],
"mes":[
{"t":"feb 2025","i":9.2},{"t":"mar 2025","i":29.4},{"t":"abr 2025","i":50.4},{"t":"may 2025","i":71.9},{"t":"jun 2025","i":93.5},{"t":"jul 2025","i":115.4},{"t":"ago 2025","i":137.6},{"t":"sept 2025","i":159},{"t":"oct 2025","i":181.5},{"t":"nov 2025","i":203},{"t":"dic 2025","i":224.6},{"t":"ene 2026","i":247},{"t":"feb 2026","i":268},{"t":"mar 2026","i":289},{"t":"abr 2026","i":310.7},{"t":"may","i":326}
],
"dia":[
{"t":"11","i":5},{"t":"19","i":11},{"t":"27","i":17},{"t":"07","i":23},{"t":"17","i":29},{"t":"25","i":35},{"t":"02","i":41},{"t":"10","i":47},{"t":"21","i":53},{"t":"29","i":59},{"t":"07","i":65},{"t":"15","i":71},{"t":"23","i":77},{"t":"02","i":83},{"t":"10","i":89},{"t":"18","i":95},{"t":"26","i":101},{"t":"04","i":107},{"t":"14","i":113},{"t":"22","i":119},{"t":"30","i":125},{"t":"07","i":131},{"t":"15","i":137},{"t":"25","i":143},{"t":"02","i":149},{"t":"10","i":155},{"t":"18","i":161},{"t":"26","i":167},{"t":"06","i":173},{"t":"14","i":179},{"t":"22","i":185},{"t":"30","i":191},{"t":"07","i":197},{"t":"17","i":203},{"t":"25","i":209},{"t":"03","i":215},{"t":"11","i":221},{"t":"19","i":227},{"t":"29","i":233},{"t":"06","i":239},{"t":"14","i":245},{"t":"22","i":251},{"t":"30","i":257},{"t":"09","i":263},{"t":"17","i":269},{"t":"25","i":275},{"t":"05","i":281},{"t":"13","i":287},{"t":"23","i":293},{"t":"31","i":299},{"t":"09","i":305},{"t":"17","i":311},{"t":"27","i":317},{"t":"05","i":323}
],
"cambio_mes":[
{"i":18.9},{"i":40},{"i":61},{"i":83},{"i":104.1},{"i":127},{"i":148},{"i":170},{"i":193},{"i":213},{"i":236},{"i":258},{"i":278},{"i":300},{"i":321}
]
},
"vconcat":[
{
"width":1778,"height":20,
"view":{"fill":"#f1f1f1","stroke":"#c4c4c4"},
"encoding":{
"x":{"field":"i","type":"quantitative","axis":null,"scale":{"domain":[-0.77,341.49],"nice":false,"zero":false,"padding":0}},
"y":{"field":"v","type":"quantitative","axis":null,"scale":{"domain":[20,0],"nice":false,"zero":false}}
},
"layer":[
{"data":{"values":[{"i":0.35,"v":10,"v2":17},{"i":1.25,"v":8,"v2":15},{"i":2.15,"v":5,"v2":12}]},"mark":{"type":"rule","strokeWidth":3,"color":"#7db6f5"},"encoding":{"y2":{"field":"v2"}}},
{"data":{"values":[{"i":3.4,"v":14.5,"t":"Mini S&P500 Full0326 Diario 6.915,25 +1,39 % 6 feb 2026, 17:30:06"}]},"mark":{"type":"text"},"encoding":{"text":{"field":"t"}}},
{"data":{"values":[{"i":340.7,"v":14.5,"t":"www.ProRealTime.com"}]},"mark":{"type":"text","align":"right"},"encoding":{"text":{"field":"t"}}}
]
},
{
"width":1721,"height":648,
"view":{"stroke":"#c4c4c4"},
"encoding":{
"x":{"field":"i","type":"quantitative","axis":null,"scale":{"domain":[-0.77,330.5],"nice":false,"zero":false,"padding":0}},
"y":{"field":"p","type":"quantitative","scale":{"type":"log","domain":[4914.8,7633],"nice":false,"zero":false},"axis":{"orient":"right","values":[5000,5200,5400,5600,5800,6000,6200,6400,6600,6800,7000,7200,7400,7600],"labelExpr":"replace(format(datum.value,','),',','.')"}}
},
"layer":[
{"data":{"values":[{"i":207.2,"i2":255.1,"p":6584.75,"p2":7044},{"i":223.2,"i2":271.1,"p":7044,"p2":7540}]},"mark":{"type":"rect","color":"#f5f7fe"},"encoding":{"x2":{"field":"i2"},"y2":{"field":"p2"}}},
{"data":{"values":[{"i":44.3,"i2":254.6,"p":7044},{"i":44.3,"i2":254.6,"p":6263},{"i":44.3,"i2":254.6,"p":6023},{"i":44.3,"i2":254.6,"p":5781},{"i":44.3,"i2":254.6,"p":5000}]},"mark":{"type":"rule","color":"#b9ccff","strokeWidth":1.5,"strokeDash":[4,4]},"encoding":{"x2":{"field":"i2"}}},
{"data":{"values":[{"i":207.2,"p":6584.75,"p2":7044},{"i":255.1,"p":6584.75,"p2":7044},{"i":223.2,"p":7044,"p2":7540},{"i":271.1,"p":7044,"p2":7540}]},"mark":{"type":"rule","color":"#a9c4ff","strokeWidth":1,"strokeDash":[4,3]},"encoding":{"y2":{"field":"p2"}}},
{"data":{"name":"velas"},"mark":{"type":"rule","strokeWidth":1},"encoding":{"y":{"field":"l"},"y2":{"field":"h"},"color":{"field":"d","type":"nominal","legend":null,"scale":{"domain":["u","d"],"range":["#2a9a22","#dc1c28"]}}}},
{"data":{"name":"velas"},"mark":{"type":"bar","size":3.4,"strokeWidth":1},"encoding":{"y":{"field":"o"},"y2":{"field":"c"},"fill":{"field":"d","type":"nominal","legend":null,"scale":{"domain":["u","d"],"range":["#20c20c","#ff0000"]}},"stroke":{"field":"d","type":"nominal","legend":null,"scale":{"domain":["u","d"],"range":["#0d8f00","#e60000"]}}}},
{"data":{"values":[{"i":191.9,"i2":330.5,"p":7044},{"i":191,"i2":330.5,"p":6994},{"i":250,"i2":330.5,"p":6814.5},{"i":226,"i2":330.5,"p":6771.5},{"i":177,"i2":330.5,"p":6632},{"i":177,"i2":330.5,"p":6584.75}]},"mark":{"type":"rule","color":"#a8a8a8","strokeWidth":1.5},"encoding":{"x2":{"field":"i2"}}},
{"data":{"values":[{"i":223.2,"i2":330.5,"p":7540}]},"mark":{"type":"rule","color":"#3cb43c","strokeWidth":2},"encoding":{"x2":{"field":"i2"}}},
{"data":{"name":"fibo"},"mark":{"type":"rect","fill":"white","stroke":"#bcd0ff","strokeWidth":1.5},"encoding":{"x2":{"field":"i2"},"y2":{"field":"p2"}}},
{"data":{"name":"fibo"},"mark":{"type":"text","align":"center","fontSize":10,"color":"#8fa3d8"},"encoding":{"x":{"field":"tc"},"y":{"field":"tp"},"text":{"field":"t"}}},
{"data":{"name":"medidas"},"mark":{"type":"rect","fill":"white","stroke":"#bcd0ff","strokeWidth":1.5},"encoding":{"x2":{"field":"i2"},"y2":{"field":"p2"}}},
{"data":{"name":"medidas"},"mark":{"type":"text","color":"#8fa3d8"},"encoding":{"x":{"field":"tx"},"y":{"field":"tp"},"text":{"field":"t"}}},
{"data":{"name":"medidas"},"mark":{"type":"text","color":"#8fa3d8"},"encoding":{"x":{"field":"tx"},"y":{"field":"tp2"},"text":{"field":"t2"}}},
{"data":{"values":[{"i":320.6,"i2":330.5,"p":6584.75,"p2":6632},{"i":320.6,"i2":330.5,"p":6771.5,"p2":6814.5},{"i":320.6,"i2":330.5,"p":6994,"p2":7044}]},"mark":{"type":"rect","fill":"white","stroke":"#b4b4b4","strokeWidth":1.5},"encoding":{"x2":{"field":"i2"},"y2":{"field":"p2"}}},
{"data":{"values":[{"i":321,"p":6584.75,"t":"6.584,75"},{"i":321,"p":6771.5,"t":"6.771,50"},{"i":321,"p":6994,"t":"6.994,00"}]},"mark":{"type":"text","dy":-4,"color":"#909090"},"encoding":{"text":{"field":"t"}}},
{"data":{"values":[{"i":320.6,"i2":330.5,"p":6632,"p2":6710},{"i":320.6,"i2":330.5,"p":6814.5,"p2":6895},{"i":320.6,"i2":330.5,"p":7044,"p2":7128}]},"mark":{"type":"rect","fill":"white","stroke":"#b4b4b4","strokeWidth":1.5},"encoding":{"x2":{"field":"i2"},"y2":{"field":"p2"}}},
{"data":{"values":[{"i":321,"p":6632,"t":"6.632,00"},{"i":321,"p":6814.5,"t":"6.814,50"},{"i":321,"p":7044,"t":"7.044,00"}]},"mark":{"type":"text","dy":-4,"color":"#909090"},"encoding":{"text":{"field":"t"}}},
{"data":{"values":[{"i":320.6,"i2":330.5,"p":7540,"p2":7630}]},"mark":{"type":"rect","fill":"white","stroke":"#3cb43c","strokeWidth":1.5},"encoding":{"x2":{"field":"i2"},"y2":{"field":"p2"}}},
{"data":{"values":[{"i":321,"p":7540,"t":"7.540,00"}]},"mark":{"type":"text","dy":-3,"color":"#3cb43c"},"encoding":{"text":{"field":"t"}}},
{"data":{"values":[{"i":331.4,"i2":340.7,"p":6880,"p2":6952}]},"mark":{"type":"rect","fill":"#f7c800","stroke":"#e0b400"},"encoding":{"x2":{"field":"i2"},"y2":{"field":"p2"}}},
{"data":{"values":[{"i":331.7,"p":6899,"t":"6.915,25"}]},"mark":{"type":"text"},"encoding":{"text":{"field":"t"}}},
{"data":{"values":[{"i":-0.58,"i2":10.0,"p":7538.5,"p2":7629}]},"mark":{"type":"rect","fill":"#fafafa","stroke":"#c8c8c8","strokeWidth":1.5},"encoding":{"x2":{"field":"i2"},"y2":{"field":"p2"}}},
{"data":{"values":[{"d":"u","i":-0.38,"i2":0.64,"p":7555,"p2":7612},{"d":"d","i":0.64,"i2":1.67,"p":7555,"p2":7612}]},"mark":{"type":"rect"},"encoding":{"x2":{"field":"i2"},"y2":{"field":"p2"},"fill":{"field":"d","type":"nominal","legend":null,"scale":{"domain":["u","d"],"range":["#20c20c","#ff0000"]}}}},
{"data":{"values":[{"i":2.5,"p":7566,"t":"Precio"}]},"mark":{"type":"text"},"encoding":{"text":{"field":"t"}}},
{"data":{"values":[{"i":-0.4,"p":4922.5,"t":"ProRealTime.com  Datos históricos ajustados a los vencimientos"}]},"mark":{"type":"text","fontSize":10.2,"fontWeight":"normal"},"encoding":{"text":{"field":"t"}}}
]
},
{
"width":1721,"height":81,
"view":{"stroke":"#c4c4c4"},
"encoding":{
"x":{"field":"i","type":"quantitative","axis":null,"scale":{"domain":[-0.77,330.5],"nice":false,"zero":false,"padding":0}},
"y":{"field":"atr","type":"quantitative","scale":{"domain":[0.76,3.14],"nice":false,"zero":false},"axis":{"orient":"right","values":[1,1.5,2,2.5,3],"labelExpr":"replace(''+datum.value,'.',',')"}}
},
"layer":[
{"data":{"name":"velas"},"mark":{"type":"bar","size":3.7,"color":"#ff0000"},"encoding":{"y2":{"datum":0.76}}},
{"data":{"values":[{"i":-0.58,"i2":19.8,"atr":2.61,"a2":3.14}]},"mark":{"type":"rect","fill":"#fafafa","stroke":"#c8c8c8","strokeWidth":1.5},"encoding":{"x2":{"field":"i2"},"y2":{"field":"a2"}}},
{"data":{"values":[{"i":-0.38,"i2":1.67,"atr":2.69,"a2":3.03}]},"mark":{"type":"rect","color":"#ff0000"},"encoding":{"x2":{"field":"i2"},"y2":{"field":"a2"}}},
{"data":{"values":[{"i":2.5,"atr":2.74,"t":"ATR Porcentaje"}]},"mark":{"type":"text"},"encoding":{"text":{"field":"t"}}},
{"data":{"values":[{"i":331.4,"i2":338.9,"atr":0.957,"a2":1.416}]},"mark":{"type":"rect","fill":"#fafafa","stroke":"#b4b4b4"},"encoding":{"x2":{"field":"i2"},"y2":{"field":"a2"}}},
{"data":{"values":[{"i":331.7,"atr":1.075,"t":"1,2031"}]},"mark":{"type":"text","color":"#ff0000"},"encoding":{"text":{"field":"t"}}}
]
},
{
"width":1721,"height":122,
"view":{"stroke":"#c4c4c4"},
"encoding":{
"x":{"field":"i","type":"quantitative","axis":null,"scale":{"domain":[-0.77,330.5],"nice":false,"zero":false,"padding":0}},
"y":{"field":"v","type":"quantitative","scale":{"domain":[-225,152.6],"nice":false,"zero":false},"axis":{"orient":"right","values":[-200,-150,-100,-50,0,50,100],"labelExpr":"''+datum.value"}}
},
"layer":[
{"data":{"name":"velas"},"mark":{"type":"bar","size":3.7},"encoding":{"y":{"field":"hist"},"y2":{"datum":0},"color":{"condition":{"test":"datum.hist>=0","value":"#4fd24f"},"value":"#ff0000"}}},
{"data":{"values":[{"i":-0.77,"i2":330.5,"v":0}]},"mark":{"type":"rule","color":"#2424dc","strokeWidth":1.2},"encoding":{"x2":{"field":"i2"}}},
{"data":{"name":"senal"},"mark":{"type":"line","color":"#222222","strokeWidth":1.2,"strokeDash":[4,3]}},
{"data":{"name":"velas"},"mark":{"type":"line","color":"#ff0000","strokeWidth":2},"encoding":{"y":{"field":"macd"}}},
{"data":{"values":[{"i":-0.58,"i2":19.4,"v":93.8,"v2":149.5}]},"mark":{"type":"rect","fill":"#fafafa","stroke":"#c8c8c8","strokeWidth":1.5},"encoding":{"x2":{"field":"i2"},"y2":{"field":"v2"}}},
{"data":{"values":[{"s":"a","i":-0.38,"i2":0.25,"v":103,"v2":137},{"s":"b","i":0.25,"i2":0.96,"v":103,"v2":137},{"s":"c","i":0.96,"i2":1.67,"v":103,"v2":137}]},"mark":{"type":"rect"},"encoding":{"x2":{"field":"i2"},"y2":{"field":"v2"},"fill":{"field":"s","type":"nominal","legend":null,"scale":{"domain":["a","b","c"],"range":["#4fd24f","#ff0000","#111111"]}}}},
{"data":{"values":[{"i":2.5,"v":109,"t":"MACD (12 26 9)"}]},"mark":{"type":"text"},"encoding":{"text":{"field":"t"}}},
{"data":{"values":[{"i":331.4,"i2":338.9,"v":0.9,"v2":48.3}]},"mark":{"type":"rect","fill":"#fafafa","stroke":"#b4b4b4"},"encoding":{"x2":{"field":"i2"},"y2":{"field":"v2"}}},
{"data":{"values":[{"i":331.7,"v":15.5,"t":"6,0064"}]},"mark":{"type":"text"},"encoding":{"text":{"field":"t"}}},
{"data":{"values":[{"i":331.4,"i2":339.5,"v":-26,"v2":18.6}]},"mark":{"type":"rect","fill":"#fafafa","stroke":"#b4b4b4"},"encoding":{"x2":{"field":"i2"},"y2":{"field":"v2"}}},
{"data":{"values":[{"i":331.7,"v":-13.6,"t":"-5,9543"}]},"mark":{"type":"text","color":"#ff0000"},"encoding":{"text":{"field":"t"}}},
{"data":{"values":[{"i":331.4,"i2":339.5,"v":-53.9,"v2":-8.4}]},"mark":{"type":"rect","fill":"#fafafa","stroke":"#b4b4b4"},"encoding":{"x2":{"field":"i2"},"y2":{"field":"v2"}}},
{"data":{"values":[{"i":331.7,"v":-44.6,"t":"-11,961"}]},"mark":{"type":"text","color":"#ff0000"},"encoding":{"text":{"field":"t"}}}
]
},
{
"width":1721,"height":96,
"view":{"stroke":"#c4c4c4"},
"encoding":{
"x":{"field":"i","type":"quantitative","axis":null,"scale":{"domain":[-0.77,330.5],"nice":false,"zero":false,"padding":0}},
"y":{"field":"vol","type":"quantitative","scale":{"domain":[0,3967],"nice":false,"zero":false},"axis":{"orient":"right","values":[0,2000,3000],"labelExpr":"datum.value==0?'':replace(format(datum.value,','),',','.')+'k'"}}
},
"layer":[
{"data":{"name":"velas"},"mark":{"type":"bar","size":3.7,"color":"#0a33ff"},"encoding":{"y2":{"datum":0}}},
{"data":{"values":[{"i":-0.58,"i2":12.7,"vol":3182,"v2":3913}]},"mark":{"type":"rect","fill":"#fafafa","stroke":"#c8c8c8","strokeWidth":1.5},"encoding":{"x2":{"field":"i2"},"y2":{"field":"v2"}}},
{"data":{"values":[{"i":-0.38,"i2":1.67,"vol":3293,"v2":3760}]},"mark":{"type":"rect","color":"#0a33ff"},"encoding":{"x2":{"field":"i2"},"y2":{"field":"v2"}}},
{"data":{"values":[{"i":2.5,"vol":3360,"t":"Volumen"}]},"mark":{"type":"text"},"encoding":{"text":{"field":"t"}}},
{"data":{"values":[{"i":331.7,"vol":165,"t":"0"}]},"mark":{"type":"text"},"encoding":{"text":{"field":"t"}}},
{"data":{"values":[{"i":331.4,"i2":338.9,"vol":702,"v2":1322}]},"mark":{"type":"rect","fill":"#fafafa","stroke":"#b4b4b4"},"encoding":{"x2":{"field":"i2"},"y2":{"field":"v2"}}},
{"data":{"values":[{"i":331.7,"vol":909,"t":"1.039k"}]},"mark":{"type":"text","color":"#0a33ff"},"encoding":{"text":{"field":"t"}}}
]
},
{
"width":1721,"height":33,
"view":{"stroke":null},
"encoding":{
"x":{"field":"i","type":"quantitative","axis":null,"scale":{"domain":[-0.77,330.5],"nice":false,"zero":false,"padding":0}}
},
"layer":[
{"data":{"name":"cambio_mes"},"mark":{"type":"rule","color":"#b4b4b4","strokeWidth":1},"encoding":{"y":{"datum":19,"type":"quantitative","axis":null,"scale":{"domain":[33,0],"nice":false,"zero":false}},"y2":{"datum":30}}},
{"data":{"name":"cambio_mes"},"mark":{"type":"rule","color":"#b4b4b4","strokeWidth":1},"encoding":{"y":{"datum":0,"type":"quantitative","axis":null,"scale":{"domain":[33,0],"nice":false,"zero":false}},"y2":{"datum":3}}},
{"data":{"name":"dia"},"mark":{"type":"text","align":"center"},"encoding":{"y":{"datum":14.5,"type":"quantitative","axis":null,"scale":{"domain":[33,0],"nice":false,"zero":false}},"text":{"field":"t"}}},
{"data":{"name":"mes"},"mark":{"type":"text","align":"center"},"encoding":{"y":{"datum":25.5,"type":"quantitative","axis":null,"scale":{"domain":[33,0],"nice":false,"zero":false}},"text":{"field":"t"}}}
]
}
]
}
